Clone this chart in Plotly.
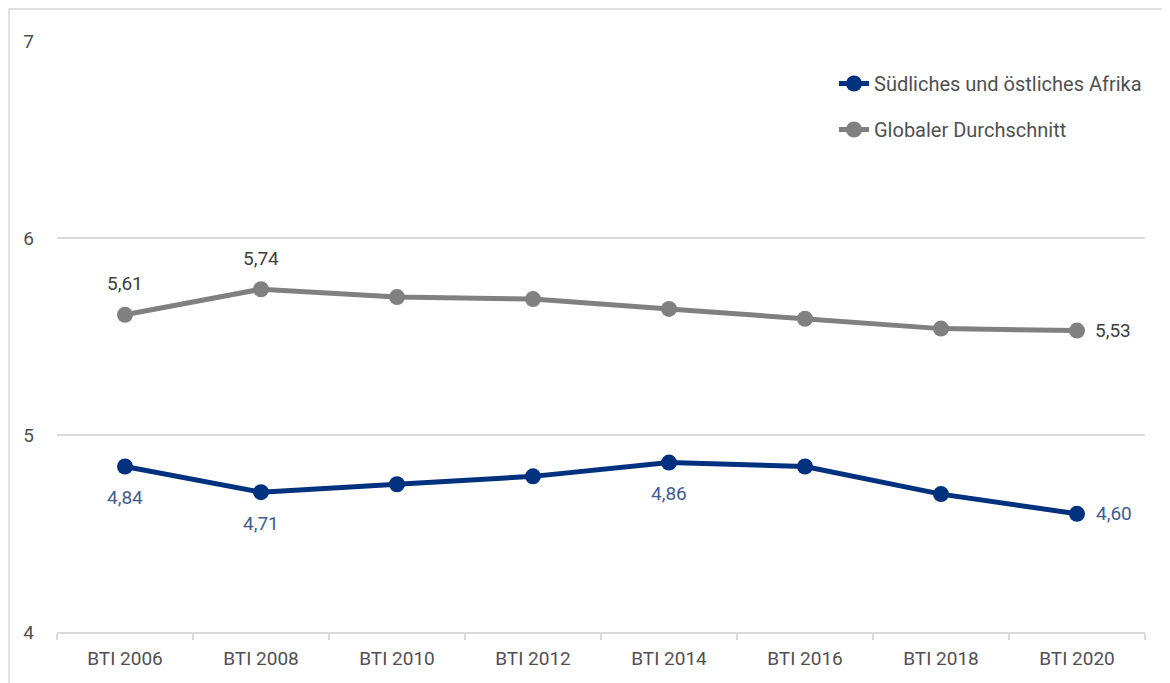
import plotly.graph_objects as go

categories = ["BTI 2006", "BTI 2008", "BTI 2010", "BTI 2012", "BTI 2014", "BTI 2016", "BTI 2018", "BTI 2020"]
afrika = [4.84, 4.71, 4.75, 4.79, 4.86, 4.84, 4.70, 4.60]
globalavg = [5.61, 5.74, 5.70, 5.69, 5.64, 5.59, 5.54, 5.53]
series_names = ["Südliches und östliches Afrika", "Globaler Durchschnitt"]
afrika_labelled = [0, 1, 4, 7]
global_labelled = [0, 1, 7]
y_ticks = [4, 5, 6, 7]

BLUE = "#00317f"
BLUE_TXT = "#3e5e91"
GREY = "#808080"
TXT = "#404040"
TICK_TXT = "#505050"
FONT = "Roboto"

W, H = 1170, 683
OFF = 8  # page body margin
L, R, T, B = 57 - OFF, 25 + OFF, 41 - OFF, 51 + OFF
pw, ph = W - L - R, H - T - B

def px_x(p):
    return (p - OFF - L) / pw

def px_y(p):
    return (H - B - (p - OFF)) / ph

fig = go.Figure()
fig.add_trace(go.Scatter(x=categories, y=afrika, name=series_names[0], mode="lines+markers",
                         line=dict(color=BLUE, width=5), marker=dict(color=BLUE, size=16),
                         legendgroup="a"))
fig.add_trace(go.Scatter(x=categories, y=globalavg, name=series_names[1], mode="lines+markers",
                         line=dict(color=GREY, width=5), marker=dict(color=GREY, size=16),
                         legendgroup="b"))

def fmt(v):
    return f"{v:.2f}".replace(".", ",")

anns = []
for i in global_labelled:
    last = i == len(categories) - 1
    anns.append(dict(x=categories[i], y=globalavg[i], text=fmt(globalavg[i]), showarrow=False,
                     xshift=36 if last else 0, yshift=0 if last else 31,
                     font=dict(family=FONT, size=19, color=TXT)))
for i in afrika_labelled:
    last = i == len(categories) - 1
    anns.append(dict(x=categories[i], y=afrika[i], text=fmt(afrika[i]), showarrow=False,
                     xshift=37 if last else 0, yshift=0 if last else -31,
                     font=dict(family=FONT, size=19, color=BLUE_TXT)))

fig.update_layout(
    width=W, height=H,
    margin=dict(l=L, r=R, t=T, b=B),
    paper_bgcolor="white", plot_bgcolor="white",
    font=dict(family=FONT, size=19, color=TXT),
    showlegend=True,
    legend=dict(x=px_x(834), y=px_y(64), xanchor="left", yanchor="top",
                font=dict(family=FONT, size=20, color=TICK_TXT),
                tracegroupgap=17, bgcolor="rgba(0,0,0,0)"),
    annotations=anns,
    shapes=[dict(type="rect", xref="paper", yref="paper",
                 x0=px_x(9), x1=px_x(1200), y0=px_y(720), y1=px_y(9),
                 line=dict(color="#d9d9d9", width=1.5), layer="below")],
)
fig.update_xaxes(type="category", range=[-0.5, 7.5], showgrid=False, showline=True,
                 linecolor="#d9d9d9", linewidth=1.5, ticks="outside", tickson="boundaries",
                 ticklen=6, tickcolor="#d9d9d9", tickwidth=1.5, ticklabelstandoff=8,
                 tickfont=dict(family=FONT, size=19, color=TICK_TXT))
fig.update_yaxes(range=[4, 7], tickvals=y_ticks, showgrid=True, gridcolor="#d9d9d9", gridwidth=1.5,
                 zeroline=False, showline=False, ticklabelstandoff=22,
                 tickfont=dict(family=FONT, size=19, color=TICK_TXT))

fig.write_html("out.html")
